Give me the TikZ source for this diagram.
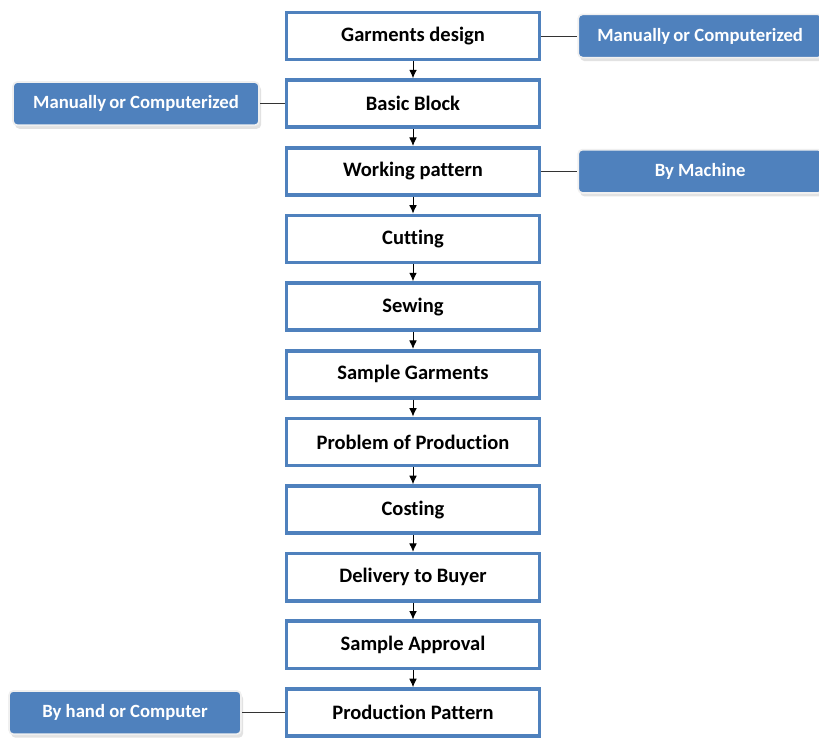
\documentclass[tikz,border=0pt]{standalone}
\usepackage{fontspec}
\setmainfont[Ligatures=CommonOff]{Carlito}
\usetikzlibrary{arrows.meta,positioning,shadows}
\definecolor{boxblue}{RGB}{79,129,189}
\tikzset{%
	process/.style = {draw=boxblue, line width=2.6pt, fill=white, rectangle, minimum width=6.325cm, minimum height=1.18cm, text centered, font=\fontsize{14.6}{16}\selectfont\bfseries},
	note/.style    = {draw=gray!12, line width=1.2pt, fill=boxblue, rectangle, rounded corners=3pt, minimum height=1.08cm, text=white, text centered, font=\fontsize{13.3}{15}\selectfont\bfseries, drop shadow={shadow xshift=1.5pt, shadow yshift=-2.5pt, fill=gray!45}},
	arrow/.style   = {semithick, -{Latex[length=6pt,width=5.5pt]}},
	link/.style    = {thin, draw=black!80},
}
\begin{document}
\begin{tikzpicture}[node distance=0.42cm]
	\useasboundingbox (0,0) rectangle (20.475,-18.5);
	% main column
	\node[process] (gdesign) at (10.325,-0.9) {Garments design};
	\node[process, below=of gdesign] (bblock) {Basic Block};
	\node[process, below=of bblock] (wpattern) {Working pattern};
	\node[process, below=of wpattern] (cutting) {Cutting};
	\node[process, below=of cutting] (sewing) {Sewing};
	\node[process, below=of sewing] (sgarments) {Sample Garments};
	\node[process, below=of sgarments] (pproduction) {Problem of Production};
	\node[process, below=of pproduction] (costing) {Costing};
	\node[process, below=of costing] (delivery) {Delivery to Buyer};
	\node[process, below=of delivery] (sapproval) {Sample Approval};
	\node[process, below=of sapproval] (ppattern) {Production Pattern};
	% side notes
	\node[note, minimum width=6.1cm, right=0.9cm of gdesign] (manright) {Manually\,or Computerized};
	\node[note, minimum width=6.15cm, left=0.62cm of bblock] (manleft) {Manually\,or Computerized};
	\node[note, minimum width=6.1cm, right=0.9cm of wpattern] (machine) {By Machine};
	\node[note, minimum width=5.8cm, left=1.07cm of ppattern] (hand) {By hand or Computer};
	% arrows
	\draw[arrow] (gdesign) -- (bblock);
	\draw[arrow] (bblock) -- (wpattern);
	\draw[arrow] (wpattern) -- (cutting);
	\draw[arrow] (cutting) -- (sewing);
	\draw[arrow] (sewing) -- (sgarments);
	\draw[arrow] (sgarments) -- (pproduction);
	\draw[arrow] (pproduction) -- (costing);
	\draw[arrow] (costing) -- (delivery);
	\draw[arrow] (delivery) -- (sapproval);
	\draw[arrow] (sapproval) -- (ppattern);
	% links
	\draw[link] (gdesign) -- (manright);
	\draw[link] (bblock) -- (manleft);
	\draw[link] (wpattern) -- (machine);
	\draw[link] (ppattern) -- (hand);
\end{tikzpicture}
\end{document}
